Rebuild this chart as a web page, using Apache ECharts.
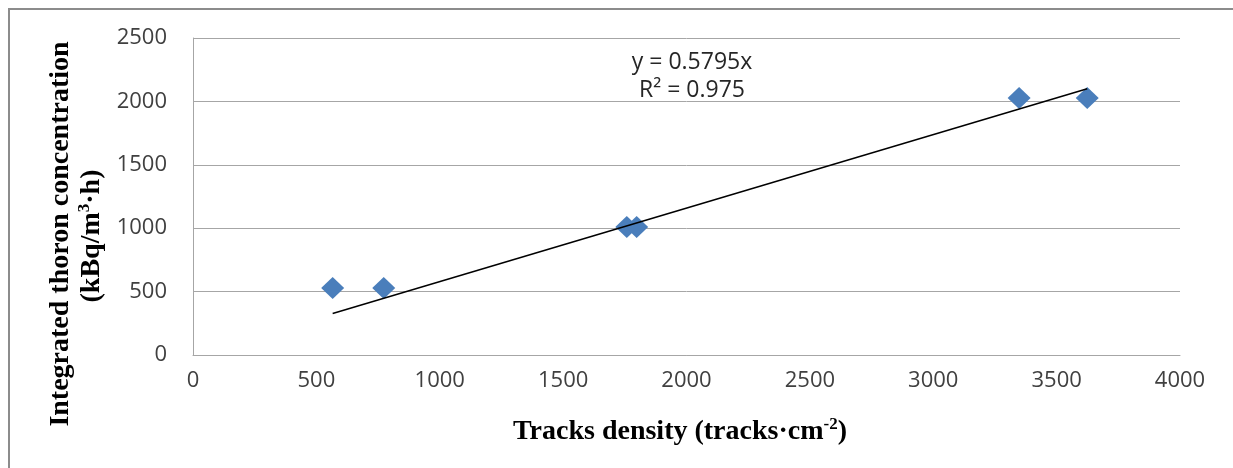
<!DOCTYPE html>
<html>
<head>
<meta charset="utf-8">
<script src="https://cdn.jsdelivr.net/npm/echarts@6/dist/echarts.min.js"></script>
<style>
  html, body { margin: 0; padding: 0; background: #fff; }
  #chart { width: 1233px; height: 468px; }
</style>
</head>
<body>
<div id="chart"></div>
<script>
// measured points (tracks density, integrated thoron concentration)
const trackDensity = [566, 773, 1758, 1798, 3348, 3624];
const thoronConc = [528, 528, 1010, 1010, 2026, 2026];

// fitted line endpoints, y = 0.5795x
const trendX = [566, 3624];
const trendY = [328, 2100];

const xTicks = {min: 0, max: 4000, interval: 500};
const yTicks = {min: 0, max: 2500, interval: 500};

const eqLines = ['y = 0.5795x', 'R² = 0.975'];

const tickFont = {color: '#404040', fontSize: 22, fontFamily: 'Open Sans', formatter: v => String(v)};
const serif = 'Liberation Serif';
const supStyle = {fontSize: 17, fontWeight: 'bold', fontFamily: serif, fill: '#000',
                  verticalAlign: 'top', lineHeight: 32, padding: [0, 0, 14, 0]};

let chart = echarts.init(document.getElementById('chart'));

chart.setOption({
    animation: false,
    grid: {left: 193, right: 53, top: 38, bottom: 113},
    xAxis: {
        type: 'value',
        min: xTicks.min, max: xTicks.max, interval: xTicks.interval,
        axisLine: {show: true, lineStyle: {color: '#a6a6a6', width: 1}},
        axisTick: {show: false},
        axisLabel: Object.assign({margin: 15}, tickFont),
        splitLine: {show: false}
    },
    yAxis: {
        type: 'value',
        min: yTicks.min, max: yTicks.max, interval: yTicks.interval,
        axisLine: {show: true, lineStyle: {color: '#a6a6a6', width: 1}},
        axisTick: {show: false},
        axisLabel: Object.assign({margin: 26}, tickFont),
        splitLine: {show: true, lineStyle: {color: '#a6a6a6', width: 1}}
    },
    series: [{
        type: 'line',
        data: trendX.map((x, i) => [x, trendY[i]]),
        showSymbol: false,
        lineStyle: {color: '#000', width: 1.5},
        z: 3
    }, {
        type: 'scatter',
        data: trackDensity.map((x, i) => [x, thoronConc[i]]),
        symbol: 'diamond',
        symbolSize: [23, 22],
        itemStyle: {color: '#4a7ebb', opacity: 1},
        z: 2
    }],
    graphic: [
        {
            type: 'rect',
            shape: {x: 9, y: 9, width: 1300, height: 500},
            style: {fill: 'none', stroke: '#8c8c8c', lineWidth: 2},
            silent: true
        },
        {
            type: 'text', x: 692, y: 62,
            style: {text: eqLines[0], fill: '#262626', fontSize: 23, fontFamily: 'Open Sans',
                    align: 'center', verticalAlign: 'middle'}
        },
        {
            type: 'text', x: 692, y: 90,
            style: {text: eqLines[1], fill: '#262626', fontSize: 23, fontFamily: 'Open Sans',
                    align: 'center', verticalAlign: 'middle'}
        },
        {
            type: 'text', x: 680, y: 432,
            style: {
                text: 'Tracks density (tracks·cm{sup|-2})',
                fill: '#000', fontSize: 28, fontWeight: 'bold', fontFamily: serif,
                align: 'center', verticalAlign: 'middle',
                rich: {sup: supStyle}
            }
        },
        {
            type: 'text', x: 61, y: 234, rotation: Math.PI / 2,
            style: {
                text: 'Integrated thoron concentration',
                fill: '#000', fontSize: 28, fontWeight: 'bold', fontFamily: serif,
                align: 'center', verticalAlign: 'middle'
            }
        },
        {
            type: 'text', x: 92, y: 236, rotation: Math.PI / 2,
            style: {
                text: '(kBq/m{sup|3}·h)',
                fill: '#000', fontSize: 28, fontWeight: 'bold', fontFamily: serif,
                align: 'center', verticalAlign: 'middle',
                rich: {sup: supStyle}
            }
        }
    ]
});
</script>
</body>
</html>
